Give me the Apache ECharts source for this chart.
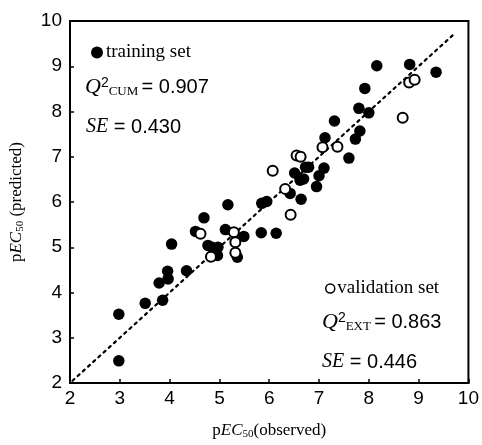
<!DOCTYPE html>
<html><head><meta charset="utf-8">
<script src="https://cdn.jsdelivr.net/npm/echarts@6/dist/echarts.min.js"></script>
<style>html,body{margin:0;padding:0;background:#fff}#c{width:482px;height:445px}</style>
</head><body><div id="c"></div>
<script>
// observed, predicted
var trainingSet = [
  [2.98,3.52],[2.98,2.49],[3.51,3.76],[3.86,3.83],[3.79,4.21],[3.97,4.30],[3.96,4.47],[4.34,4.48],
  [4.04,5.07],[4.52,5.35],[4.69,5.65],[4.77,5.04],[4.85,5.00],[4.97,5.00],[4.96,4.82],[5.12,5.39],
  [5.17,5.94],[5.49,5.24],[5.36,4.78],[5.84,5.32],[6.14,5.31],[5.85,5.97],[5.95,6.01],[6.42,6.19],
  [6.64,6.06],[6.62,6.48],[6.69,6.51],[6.51,6.64],[6.95,6.34],[7.00,6.58],[6.73,6.77],[6.79,6.77],
  [7.10,6.75],[7.12,7.42],[7.60,6.97],[7.31,7.79],[7.73,7.39],[7.82,7.57],[7.80,8.07],[8.00,7.97],
  [7.92,8.51],[8.16,9.01],[8.82,9.04],[9.35,8.87]
];
var validationSet = [
  [4.62,5.30],[4.83,4.79],[5.29,5.33],[5.32,5.11],[5.32,4.88],[6.07,6.69],[6.32,6.29],[6.43,5.72],
  [6.55,7.03],[6.63,7.00],[7.07,7.21],[7.37,7.22],[8.68,7.86],[8.81,8.64],[8.92,8.70]
];
var identityLine = [[2.05,2.05],[9.72,9.72]];
var xTicks = [2,3,4,5,6,7,8,9,10];
var yTicks = [2,3,4,5,6,7,8,9,10];
var seriesNames = ['training set','validation set'];
var statsTraining = {q2: '0.907', se: '0.430', sub: 'CUM'};
var statsValidation = {q2: '0.863', se: '0.446', sub: 'EXT'};

var serif = '"Liberation Serif","Times New Roman",serif';
var sans = '"Liberation Sans",Arial,sans-serif';
var richStats = {
  q: {fontFamily: serif, fontStyle: 'italic', fontSize: 22, fill: '#000'},
  sup: {fontFamily: sans, fontSize: 14, verticalAlign: 'top', fill: '#000'},
  sub: {fontFamily: serif, fontSize: 13, verticalAlign: 'bottom', fill: '#000'},
  n: {fontFamily: sans, fontSize: 20, fill: '#000'},
  se: {fontFamily: serif, fontStyle: 'italic', fontSize: 20, fill: '#000'}
};
function statText(st){ return '{q|Q}{sup|2}{sub|' + st.sub + ' }{n|= ' + st.q2 + '}'; }
function seText(st){ return '{se|SE}{n| = ' + st.se + '}'; }

var chart = echarts.init(document.getElementById('c'));
chart.setOption({
  animation: false,
  backgroundColor: '#fff',
  grid: {left: 70, right: 11, top: 21, bottom: 55, show: true, borderColor: '#000', borderWidth: 2, backgroundColor: 'transparent'},
  xAxis: {
    type: 'value', min: xTicks[0], max: xTicks[xTicks.length-1], interval: 1,
    axisLine: {lineStyle: {color: '#000', width: 2}},
    axisTick: {inside: true, length: 4, lineStyle: {color: '#000', width: 1.5}},
    axisLabel: {color: '#000', fontFamily: sans, fontSize: 19, margin: 6},
    splitLine: {show: false},
    name: 'p{i|EC}{s|50}(observed)', nameLocation: 'middle', nameGap: 38,
    nameTextStyle: {fontFamily: serif, fontSize: 17, color: '#000',
      rich: {i: {fontFamily: serif, fontStyle: 'italic', fontSize: 17}, s: {fontFamily: serif, fontSize: 11, verticalAlign: 'bottom', padding:[8,0,0,0]}}}
  },
  yAxis: {
    type: 'value', min: yTicks[0], max: yTicks[yTicks.length-1], interval: 1,
    axisLine: {lineStyle: {color: '#000', width: 2}},
    axisTick: {inside: true, length: 4, lineStyle: {color: '#000', width: 1.5}},
    axisLabel: {color: '#000', fontFamily: sans, fontSize: 19, margin: 8},
    splitLine: {show: false},
    name: 'p{i|EC}{s|50} (predicted)', nameLocation: 'middle', nameGap: 44, nameRotate: 90,
    nameTextStyle: {fontFamily: serif, fontSize: 17, color: '#000',
      rich: {i: {fontFamily: serif, fontStyle: 'italic', fontSize: 17}, s: {fontFamily: serif, fontSize: 11, verticalAlign: 'bottom', padding:[8,0,0,0]}}}
  },
  legend: [
    {data: [seriesNames[0]], left: 86, top: 38, itemWidth: 12, itemHeight: 12, itemGap: 4,
     textStyle: {fontFamily: serif, fontSize: 19, color: '#000', padding: [0,0,0,-2]}},
    {data: [{name: seriesNames[1], itemStyle: {borderWidth: 1.5}}], left: 320, top: 274, itemWidth: 10, itemHeight: 9, itemGap: 4,
     textStyle: {fontFamily: serif, fontSize: 19, color: '#000', padding: [0,0,0,-3]}}
  ],
  graphic: [
    {type: 'text', left: 85, top: 76, style: {text: statText(statsTraining), rich: richStats}},
    {type: 'text', left: 86, top: 117, style: {text: seText(statsTraining), rich: richStats}},
    {type: 'text', left: 322, top: 311, style: {text: statText(statsValidation), rich: richStats}},
    {type: 'text', left: 322, top: 352, style: {text: seText(statsValidation), rich: richStats}}
  ],
  series: [
    {type: 'line', data: identityLine, symbol: 'none', silent: true, z: 1,
     lineStyle: {color: '#000', width: 2.2, type: [2.5, 4.5], cap: 'round'}},
    {name: seriesNames[0], type: 'scatter', data: trainingSet, symbol: 'circle', symbolSize: 11.5, z: 3,
     itemStyle: {color: '#000', opacity: 1}},
    {name: seriesNames[1], type: 'scatter', data: validationSet, symbol: 'circle', symbolSize: 10, z: 4,
     itemStyle: {color: '#fff', borderColor: '#000', borderWidth: 2, opacity: 1}}
  ]
});
</script></body></html>
